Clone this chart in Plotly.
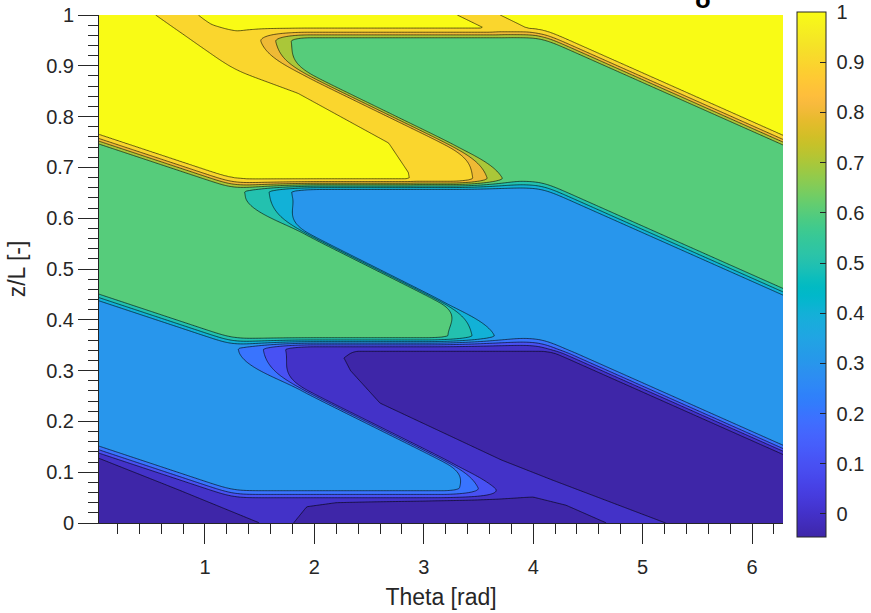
import numpy as np
import plotly.graph_objects as go

# ---------------- values ----------------
theta_range = [0.0314, 6.2832]
zl_range = [0.0, 1.0]
cbar_range = [-0.046, 1.0]
level_start, level_end, level_step = 0.0, 1.0, 0.1

# height shift of the bands along theta (left edge, knees, right edge)
shift_theta = [0.0, 1.26, 4.08, 6.2832]
shift_dz = [0.09, 0.0, 0.0, -0.211]
knee_round = 0.10

# horizontal layer limits in the middle section
layer_edges = [0.055, 0.355, 0.665, 0.962]
layer_width = 0.014

# slanted fronts of each layer: centre point, slope, half span, widths
front_theta = [2.50, 2.575, 2.55, 2.60, 2.72]
front_mid = [-0.105, 0.1895, 0.502, 0.811, 1.111]
front_slope = [0.108, 0.107, 0.108, 0.105, 0.105]
front_halfspan = [1.0, 1.025, 0.95, 1.0, 1.0]
front_width_mid = [0.06, 0.06, 0.05, 0.10, 0.10]
front_width_tip = [0.30, 0.44, 0.46, 0.34, 0.32]

# plateaus: dark, blue, green, yellow
plateau_values = [0.0, 0.33, 0.64, 1.005]

# dark plateau: slightly positive / slightly negative parts
dark_pos, dark_neg = 0.03, -0.03
negA_theta = [0.0, 0.75, 1.5]
negA_z = [0.13, 0.066, 0.0]
negB_theta = [1.76, 1.81, 1.93, 2.2, 3.0, 3.7, 4.0, 4.3, 4.67, 4.72]
negB_z = [-0.03, 0.0, 0.032, 0.040, 0.044, 0.049, 0.051, 0.035, 0.0, -0.03]
negC_z = [0.0, 0.085, 0.124, 0.236, 0.30, 0.325, 0.345]
negC_theta = [5.21, 4.17, 3.71, 2.60, 2.33, 2.27, 2.40]
negC_top = 0.338

# yellow dip ahead of the slanted yellow fronts
yellow_dip = 0.02
dip_left_psi = [0.60, 0.69, 0.748, 0.846, 0.95, 1.05]      # left edge of the dip (upper yellow blob)
dip_left_theta = [2.95, 2.88, 2.70, 1.87, 0.56, -0.50]
dip_before = 0.45
dip_after_inside = 0.8
dip_after_above = -0.10

x_ticks = [1, 2, 3, 4, 5, 6]
y_ticks = [round(0.1 * i, 1) for i in range(11)]
y_ticktext = ["0", "0.1", "0.2", "0.3", "0.4", "0.5", "0.6", "0.7", "0.8", "0.9", "1"]
cbar_ticks = [round(0.1 * i, 1) for i in range(11)]

parula = [
    [0.2422, 0.1504, 0.6603], [0.2504, 0.1650, 0.7076], [0.2578, 0.1818, 0.7511], [0.2647, 0.1978, 0.7952],
    [0.2706, 0.2147, 0.8364], [0.2751, 0.2342, 0.8710], [0.2783, 0.2559, 0.8991], [0.2803, 0.2782, 0.9221],
    [0.2813, 0.3006, 0.9414], [0.2810, 0.3228, 0.9579], [0.2795, 0.3447, 0.9717], [0.2760, 0.3667, 0.9829],
    [0.2699, 0.3892, 0.9906], [0.2602, 0.4123, 0.9952], [0.2440, 0.4358, 0.9988], [0.2206, 0.4603, 0.9973],
    [0.1963, 0.4847, 0.9892], [0.1834, 0.5074, 0.9798], [0.1786, 0.5289, 0.9682], [0.1764, 0.5499, 0.9520],
    [0.1687, 0.5703, 0.9359], [0.1540, 0.5902, 0.9218], [0.1460, 0.6091, 0.9079], [0.1380, 0.6276, 0.8973],
    [0.1248, 0.6459, 0.8883], [0.1113, 0.6635, 0.8763], [0.0952, 0.6798, 0.8598], [0.0689, 0.6948, 0.8394],
    [0.0297, 0.7082, 0.8163], [0.0036, 0.7203, 0.7917], [0.0067, 0.7312, 0.7660], [0.0433, 0.7411, 0.7394],
    [0.0964, 0.7500, 0.7120], [0.1408, 0.7584, 0.6842], [0.1717, 0.7670, 0.6554], [0.1938, 0.7758, 0.6251],
    [0.2161, 0.7843, 0.5923], [0.2470, 0.7918, 0.5567], [0.2906, 0.7973, 0.5188], [0.3406, 0.8008, 0.4789],
    [0.3909, 0.8029, 0.4354], [0.4456, 0.8024, 0.3909], [0.5044, 0.7993, 0.3480], [0.5616, 0.7942, 0.3045],
    [0.6174, 0.7876, 0.2612], [0.6720, 0.7793, 0.2227], [0.7242, 0.7698, 0.1910], [0.7738, 0.7598, 0.1646],
    [0.8203, 0.7498, 0.1535], [0.8634, 0.7406, 0.1596], [0.9035, 0.7330, 0.1774], [0.9393, 0.7288, 0.2100],
    [0.9728, 0.7298, 0.2394], [0.9956, 0.7434, 0.2371], [0.9970, 0.7659, 0.2199], [0.9952, 0.7893, 0.2028],
    [0.9892, 0.8136, 0.1885], [0.9786, 0.8386, 0.1766], [0.9676, 0.8639, 0.1643], [0.9610, 0.8890, 0.1537],
    [0.9597, 0.9135, 0.1423], [0.9628, 0.9373, 0.1265], [0.9691, 0.9606, 0.1064], [0.9769, 0.9839, 0.0805],
]

# ---------------- build the field from the read geometry ----------------
par = np.array(parula)
par_pos = np.linspace(0, 1, len(par))


def parula_rgb(t):
    t = min(max(t, 0.0), 1.0)
    c = [np.interp(t, par_pos, par[:, i]) for i in range(3)]
    return "rgb(%d,%d,%d)" % tuple(int(round(255 * v)) for v in c)


def step(x):
    t = np.clip((x + 1.0) / 2.0, 0.0, 1.0)
    return t * t * (3.0 - 2.0 * t)


def softclip(x, p=6):
    return x / (1.0 + np.abs(x) ** p) ** (1.0 / p)


nx, ny = 460, 460
th = np.linspace(theta_range[0], theta_range[1], nx)
zz = np.linspace(zl_range[0], zl_range[1], ny)
T, Z = np.meshgrid(th, zz)

# smooth shift curve
fine = np.linspace(-1.5, 7.8, 4000)
s_raw = np.interp(fine, shift_theta, shift_dz)
sl0 = (shift_dz[1] - shift_dz[0]) / (shift_theta[1] - shift_theta[0])
sl1 = (shift_dz[-1] - shift_dz[-2]) / (shift_theta[-1] - shift_theta[-2])
s_raw = np.where(fine < shift_theta[0], shift_dz[0] + sl0 * (fine - shift_theta[0]), s_raw)
s_raw = np.where(fine > shift_theta[-1], shift_dz[-1] + sl1 * (fine - shift_theta[-1]), s_raw)
dxf = fine[1] - fine[0]
kx = np.arange(-int(4 * knee_round / dxf), int(4 * knee_round / dxf) + 1) * dxf
ker = np.exp(-0.5 * (kx / knee_round) ** 2)
ker /= ker.sum()
s_sm = np.convolve(s_raw, ker, mode="same")
S = np.interp(T, fine, s_sm)
psi = Z - S

ups = [step((psi - h) / layer_width) for h in layer_edges]
omega = [1 - ups[0], ups[0] - ups[1], ups[1] - ups[2], ups[2] - ups[3], ups[3]]

rr, straight = [], []
for k in range(5):
    u = (front_mid[k] - psi) / front_slope[k]
    straight.append(front_theta[k] + u)
    hs = front_halfspan[k]
    thd = front_theta[k] + hs * softclip(u / hs)
    g = step((np.abs(u) / hs - 1.0) / 0.35)
    w = front_width_mid[k] + (front_width_tip[k] - front_width_mid[k]) * g
    rr.append(step((T - thd) / w))


def band(left, right):
    return step((T - left) / 0.06) * (1 - step((T - right) / 0.06))


left3 = np.interp(psi, dip_left_psi, dip_left_theta)
dip_in = band(left3, straight[3] + dip_after_inside)
dip_up = band(left3, straight[3] + dip_after_above) + band(straight[4] - dip_before, straight[4] + dip_after_above)
Y_in = plateau_values[3] - yellow_dip * np.clip(dip_in, 0, 1)
Y_up = plateau_values[3] - yellow_dip * np.clip(dip_up, 0, 1)

# dark plateau sign pattern
A = step((np.interp(T, negA_theta, negA_z, left=0.2, right=-0.1) - Z) / 0.008)
B = step((np.interp(T, negB_theta, negB_z, left=-0.1, right=-0.1) - Z) / 0.006)
C = step((T - np.interp(Z, negC_z, negC_theta)) / 0.05) * step((negC_top - Z) / 0.006)
neg = 1 - (1 - A) * (1 - B) * (1 - C)
Dv = dark_pos + (dark_neg - dark_pos) * neg

blue = plateau_values[1] + 0 * T
green = plateau_values[2] + 0 * T
layer_vals = [(Dv, Dv), (blue, Dv), (green, blue), (Y_in, green), (Y_up, Y_up)]
V = np.zeros_like(T)
for k in range(5):
    lv, rv = layer_vals[k]
    V += omega[k] * (lv * (1 - rr[k]) + rv * rr[k])

# ---------------- colours ----------------
band_levels = [level_start - level_step] + [round(level_start + level_step * i, 2) for i in range(11)]
span = (level_end - level_start) + level_step
band_scale = []
for L in band_levels:
    p = (L - level_start + level_step) / span
    t = (max(L, cbar_range[0]) - cbar_range[0]) / (cbar_range[1] - cbar_range[0])
    if L < level_start:
        t = 0.0
    band_scale.append([min(max(p, 0), 1), parula_rgb(t)])
band_scale[0][0] = 0.0
band_scale[-1][0] = 1.0

cont_scale = [[float(p), parula_rgb(p)] for p in np.linspace(0, 1, 64)]

ink = "#262626"
fam = "Liberation Sans, Arial, sans-serif"
fig = go.Figure()
fig.add_trace(go.Contour(
    x=th, y=zz, z=V,
    autocontour=False,
    contours=dict(start=level_start, end=level_end, size=level_step, coloring="fill", showlines=True),
    line=dict(color="black", width=0.6, smoothing=1.0),
    colorscale=band_scale, showscale=False, hoverinfo="skip",
))
fig.add_trace(go.Scatter(
    x=[3.0], y=[0.5], mode="markers", hoverinfo="skip", showlegend=False,
    marker=dict(size=1, opacity=0, color=[0.5], colorscale=cont_scale,
                cmin=cbar_range[0], cmax=cbar_range[1], showscale=True,
                colorbar=dict(
                    x=1.0205, xanchor="left", y=0.489, yanchor="middle",
                    len=1.0335, lenmode="fraction", thickness=29, thicknessmode="pixels",
                    xpad=0, ypad=0, outlinewidth=1, outlinecolor=ink,
                    tickvals=cbar_ticks, ticktext=["\u00a0" + t for t in y_ticktext],
                    ticks="inside", ticklen=6,
                    tickcolor=ink, tickfont=dict(family=fam, size=20, color=ink),
                )),
))

fig.add_annotation(text="<b>δ</b>", x=0.883, y=1.0, xref="paper", yref="paper",
                   xanchor="center", yanchor="bottom", yshift=-1, showarrow=False,
                   font=dict(family=fam, size=26, color="black"))

axfont = dict(family=fam, size=20, color=ink)
fig.update_layout(
    width=871, height=613,
    margin=dict(l=99, r=88, t=15, b=90, autoexpand=False),
    paper_bgcolor="white", plot_bgcolor="white",
    showlegend=False,
    xaxis=dict(range=theta_range, tickvals=x_ticks, ticks="outside", ticklen=20, tickwidth=1,
               tickcolor=ink, showline=True, linecolor=ink, linewidth=1, showgrid=False, zeroline=False,
               tickfont=axfont, ticklabelstandoff=6, automargin=False,
               minor=dict(dtick=0.2, tick0=0, ticks="outside", ticklen=10, tickcolor=ink, tickwidth=1, showgrid=False),
               title=dict(text="Theta [rad]", font=dict(family=fam, size=23, color=ink), standoff=11)),
    yaxis=dict(range=zl_range, tickvals=y_ticks, ticktext=y_ticktext, ticks="outside", ticklen=20, tickwidth=1,
               tickcolor=ink, showline=True, linecolor=ink, linewidth=1, showgrid=False, zeroline=False,
               tickfont=axfont, automargin=False,
               minor=dict(dtick=0.02, tick0=0, ticks="outside", ticklen=10, tickcolor=ink, tickwidth=1, showgrid=False),
               title=dict(text="z/L [-]", font=dict(family=fam, size=23, color=ink), standoff=14)),
)

fig.write_html("out.html", config={"displayModeBar": False},
               post_script="document.body.style.margin='0';")
